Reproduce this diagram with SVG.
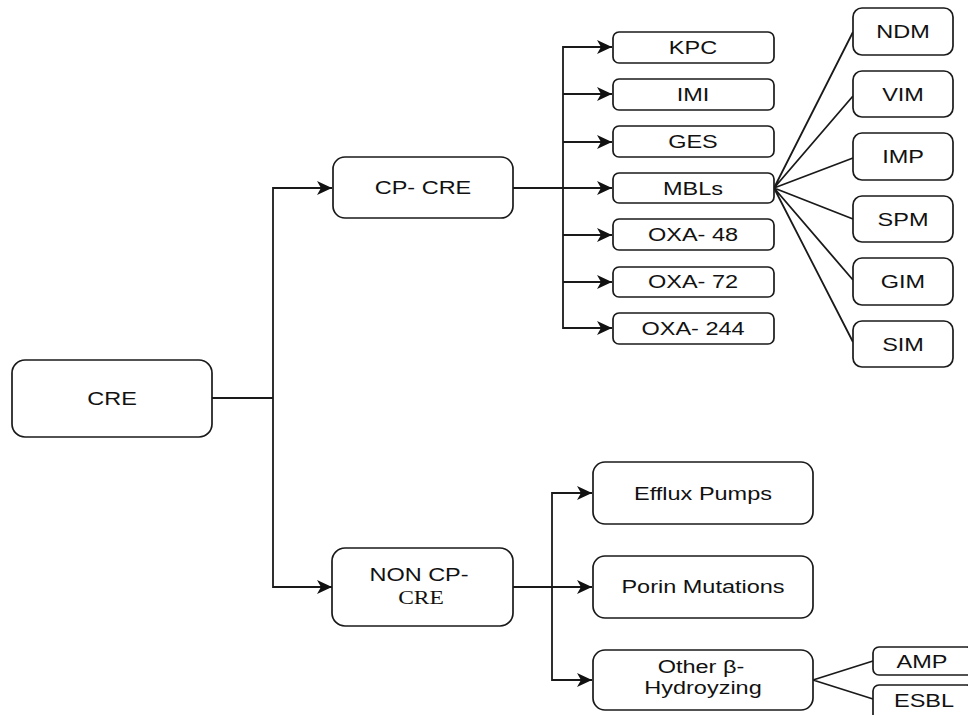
<svg xmlns="http://www.w3.org/2000/svg" width="968" height="715" viewBox="0 0 968 715">
<style>
.b{fill:#fff;stroke:#1a1a1a;stroke-width:1.7}
.c{fill:none;stroke:#1a1a1a;stroke-width:1.8}
.t{font-family:"Liberation Sans",Arial,sans-serif;font-size:18.5px;fill:#111;text-anchor:middle}
.s{font-family:"Liberation Serif","Times New Roman",serif;font-size:18.5px;fill:#111;text-anchor:middle}
</style>
<defs>
<marker id="ar" markerUnits="userSpaceOnUse" markerWidth="16" markerHeight="14" refX="15" refY="7" orient="auto">
<path d="M0,0 L15,7 L0,14 L4,7 Z" fill="#111"/>
</marker>
</defs>
<rect width="968" height="715" fill="#fff"/>
<g id="connectors">
<path class="c" d="M212,398 H273"/>
<path class="c" d="M273,398 V188 H332" marker-end="url(#ar)"/>
<path class="c" d="M273,398 V587 H332" marker-end="url(#ar)"/>
<path class="c" d="M513,188 H612" marker-end="url(#ar)"/>
<path class="c" d="M563,188 V47 H612" marker-end="url(#ar)"/>
<path class="c" d="M563,94 H612" marker-end="url(#ar)"/>
<path class="c" d="M563,142 H612" marker-end="url(#ar)"/>
<path class="c" d="M563,188 V328 H612" marker-end="url(#ar)"/>
<path class="c" d="M563,235 H612" marker-end="url(#ar)"/>
<path class="c" d="M563,282 H612" marker-end="url(#ar)"/>
<path class="c" d="M774,188 L853,32 M774,188 L853,96 M774,188 L853,158 M774,188 L853,219 M774,188 L853,280 M774,188 L853,342"/>
<path class="c" d="M513,587 H592" marker-end="url(#ar)"/>
<path class="c" d="M552,587 V493 H592" marker-end="url(#ar)"/>
<path class="c" d="M552,587 V680 H592" marker-end="url(#ar)"/>
<path class="c" d="M813,680 L873,661 M813,680 L873,699"/>
</g>
<g id="cre"><rect class="b" x="12" y="360" width="200" height="77" rx="13"/><text class="t" transform="translate(112,405) scale(1.27,1)">CRE</text></g>
<g id="cp-cre"><rect class="b" x="333" y="157" width="180" height="61" rx="12"/><text class="t" transform="translate(423,194) scale(1.27,1)">CP- CRE</text></g>
<g id="non-cp-cre"><rect class="b" x="332" y="548" width="181" height="78" rx="13"/><text class="t" transform="translate(419,581) scale(1.27,1)">NON CP-</text><text class="s" transform="translate(421,604) scale(1.27,1)">CRE</text></g>
<g id="kpc"><rect class="b" x="613" y="32" width="161" height="31" rx="6"/><text class="t" transform="translate(693,54) scale(1.27,1)">KPC</text></g>
<g id="imi"><rect class="b" x="613" y="79" width="161" height="31" rx="6"/><text class="t" transform="translate(693,101) scale(1.27,1)">IMI</text></g>
<g id="ges"><rect class="b" x="613" y="126" width="161" height="31" rx="6"/><text class="t" transform="translate(693,148) scale(1.27,1)">GES</text></g>
<g id="mbls"><rect class="b" x="613" y="173" width="161" height="30" rx="6"/><text class="t" transform="translate(693,195) scale(1.27,1)">MBLs</text></g>
<g id="oxa48"><rect class="b" x="613" y="219" width="161" height="31" rx="6"/><text class="t" transform="translate(693,241) scale(1.27,1)">OXA- 48</text></g>
<g id="oxa72"><rect class="b" x="613" y="267" width="161" height="30" rx="6"/><text class="t" transform="translate(693,288) scale(1.27,1)">OXA- 72</text></g>
<g id="oxa244"><rect class="b" x="613" y="313" width="161" height="31" rx="6"/><text class="t" transform="translate(693,335) scale(1.27,1)">OXA- 244</text></g>
<g id="ndm"><rect class="b" x="853" y="8" width="100" height="47" rx="9"/><text class="t" transform="translate(903,38) scale(1.27,1)">NDM</text></g>
<g id="vim"><rect class="b" x="853" y="71" width="100" height="46" rx="9"/><text class="t" transform="translate(903,101) scale(1.27,1)">VIM</text></g>
<g id="imp"><rect class="b" x="853" y="133" width="100" height="47" rx="9"/><text class="t" transform="translate(903,163) scale(1.27,1)">IMP</text></g>
<g id="spm"><rect class="b" x="853" y="196" width="100" height="46" rx="9"/><text class="t" transform="translate(903,226) scale(1.27,1)">SPM</text></g>
<g id="gim"><rect class="b" x="853" y="258" width="100" height="47" rx="9"/><text class="t" transform="translate(903,288) scale(1.27,1)">GIM</text></g>
<g id="sim"><rect class="b" x="853" y="321" width="100" height="46" rx="9"/><text class="t" transform="translate(903,351) scale(1.27,1)">SIM</text></g>
<g id="efflux"><rect class="b" x="593" y="462" width="220" height="62" rx="12"/><text class="t" transform="translate(703,500) scale(1.27,1)">Efflux Pumps</text></g>
<g id="porin"><rect class="b" x="593" y="556" width="220" height="62" rx="12"/><text class="t" transform="translate(703,593) scale(1.27,1)">Porin Mutations</text></g>
<g id="other"><rect class="b" x="593" y="650" width="220" height="60" rx="12"/><text class="t" transform="translate(701,673) scale(1.27,1)">Other β-</text><text class="t" transform="translate(703,694) scale(1.27,1)">Hydroyzing</text></g>
<g id="amp"><rect class="b" x="873" y="647" width="100" height="28" rx="6"/><text class="t" transform="translate(922,668) scale(1.27,1)">AMP</text></g>
<g id="esbl"><rect class="b" x="873" y="685" width="100" height="36" rx="6"/><text class="t" transform="translate(924,707) scale(1.27,1)">ESBL</text></g>
</svg>
